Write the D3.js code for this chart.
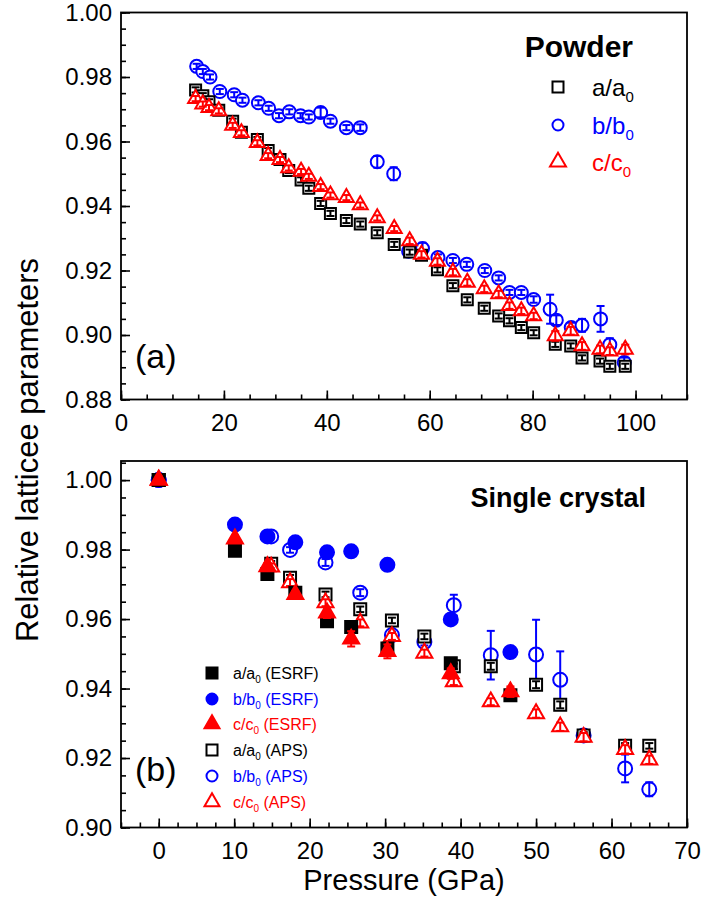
<!DOCTYPE html>
<html>
<head>
<meta charset="utf-8">
<script src="https://d3js.org/d3.v7.min.js"></script>
<style>
  body { margin: 0; background: #fff; }
  text { font-family: "Liberation Sans", Arial, sans-serif; }
</style>
</head>
<body>
<div id="chart"></div>
<script>
// ---- panel (a) Powder ----
var powderP = [14.5, 15.9, 17.1, 19.0, 21.7, 23.4, 26.5, 28.6, 30.9, 32.6, 35.0, 36.5, 38.8, 40.7, 43.8, 46.5,
  49.8, 53.1, 56.1, 58.4, 61.5, 64.5, 67.3, 70.6, 73.4, 75.5, 77.8, 80.2, 84.4, 87.4, 89.6, 93.1, 95.0, 98.0];
var powderA = [0.9760, 0.9742, 0.9723, 0.9697, 0.9663, 0.9629, 0.9606, 0.9572, 0.9544, 0.9510, 0.9481, 0.9455,
  0.9408, 0.9377, 0.9355, 0.9344, 0.9317, 0.9281, 0.9257, 0.9247, 0.9202, 0.9153, 0.9109, 0.9083, 0.9059,
  0.9044, 0.9023, 0.9007, 0.8971, 0.8966, 0.8929, 0.8919, 0.8903, 0.8903];
var powderC = [0.9733, 0.9716, 0.9705, 0.9695, 0.9650, 0.9627, 0.9596, 0.9556, 0.9544, 0.9518, 0.9507, 0.9492,
  0.9460, 0.9434, 0.9426, 0.9403, 0.9363, 0.9330, 0.9292, 0.9250, 0.9228, 0.9195, 0.9163, 0.9143, 0.9127,
  0.9091, 0.9075, 0.9059, 0.8997, 0.9013, 0.8966, 0.8955, 0.8950, 0.8955];
var powderErrA = [0.0008, 0.0008, 0.0008, 0.0008, 0.0008, 0.0008, 0.0008, 0.0008, 0.0008, 0.0008, 0.0008, 0.0008,
  0.0008, 0.0008, 0.0008, 0.0008, 0.0008, 0.0008, 0.0008, 0.0008, 0.0008, 0.0008, 0.0008, 0.0008, 0.0008,
  0.0008, 0.0008, 0.0008, 0.0008, 0.0008, 0.0008, 0.0008, 0.0008, 0.0008];
var powderErrC = [0.0008, 0.0008, 0.0008, 0.0008, 0.0008, 0.0008, 0.0008, 0.0008, 0.0008, 0.0008, 0.0008, 0.0008,
  0.0008, 0.0008, 0.0008, 0.0008, 0.0008, 0.0008, 0.0010, 0.0010, 0.0010, 0.0010, 0.0010, 0.0010, 0.0010,
  0.0010, 0.0010, 0.0010, 0.0015, 0.0012, 0.0012, 0.0012, 0.0012, 0.0015];

var powderPB = [14.7, 15.9, 17.3, 19.2, 22.0, 23.6, 26.7, 28.7, 30.7, 32.7, 34.9, 36.5, 38.8, 40.7, 43.8, 46.5,
  49.8, 53.0, 55.9, 58.6, 61.6, 64.5, 67.2, 70.7, 73.4, 75.5, 77.8, 80.2, 83.4, 84.6, 87.5, 89.6, 93.2, 95.0, 97.8];
var powderB = [0.9833, 0.9817, 0.9800, 0.9755, 0.9745, 0.9728, 0.9720, 0.9703, 0.9680, 0.9692, 0.9680, 0.9676,
  0.9690, 0.9663, 0.9643, 0.9643, 0.9537, 0.9500, 0.9260, 0.9268, 0.9240, 0.9231, 0.9219, 0.9200, 0.9177,
  0.9132, 0.9132, 0.9110, 0.9080, 0.9046, 0.9023, 0.9030, 0.9050, 0.8970, 0.8915];
var powderErrB = [0.0008, 0.0008, 0.0008, 0.0008, 0.0008, 0.0008, 0.0008, 0.0008, 0.0008, 0.0008, 0.0008, 0.0008,
  0.0015, 0.0008, 0.0008, 0.0010, 0.0018, 0.0020, 0.0015, 0.0018, 0.0010, 0.0008, 0.0008, 0.0008, 0.0008,
  0.0008, 0.0008, 0.0010, 0.0045, 0.0015, 0.0015, 0.0020, 0.0040, 0.0020, 0.0015];

// ---- panel (b) Single crystal ----
var esrfP = [0, 10.1, 14.4, 18.1, 22.3, 25.5, 30.3, 38.7, 46.6];
var esrfA = [1.000, 0.9797, 0.9730, 0.9676, 0.9594, 0.9577, 0.9515, 0.9473, 0.9381];
var esrfB = [1.000, 0.9872, 0.9838, 0.9821, 0.9792, 0.9795, 0.9756, 0.9599, 0.9505];
var esrfC = [1.000, 0.9831, 0.9751, 0.9671, 0.9618, 0.9543, 0.9507, 0.9443, 0.9391];
var esrfErrA = [0.0005, 0.0008, 0.0008, 0.0008, 0.0008, 0.0008, 0.0010, 0.0010, 0.0010];
var esrfErrB = [0.0005, 0.0005, 0.0005, 0.0005, 0.0005, 0.0005, 0.0005, 0.0005, 0.0005];
var esrfErrC = [0.0010, 0.0010, 0.0010, 0.0010, 0.0015, 0.0022, 0.0020, 0.0015, 0.0015];

var apsP = [0, 14.9, 17.4, 22.1, 26.7, 30.9, 35.2, 39.1, 44.0, 50.0, 53.2, 56.3, 61.8, 65.0];
var apsA = [1.000, 0.9759, 0.9719, 0.9671, 0.9628, 0.9596, 0.9550, 0.9464, 0.9464, 0.9411, 0.9353, 0.9265, 0.9235, 0.9235];
var apsB = [1.000, 0.9838, 0.9799, 0.9763, 0.9676, 0.9554, 0.9534, 0.9640, 0.9496, 0.9498, 0.9425, 0.9265, 0.9170, 0.9110];
var apsC = [1.000, 0.9750, 0.9705, 0.9647, 0.9589, 0.9550, 0.9502, 0.9420, 0.9362, 0.9328, 0.9290, 0.9260, 0.9225, 0.9195];
var apsErrA = [0.0005, 0.0008, 0.0008, 0.0008, 0.0008, 0.0008, 0.0008, 0.0008, 0.0010, 0.0010, 0.0010, 0.0010, 0.0008, 0.0008];
var apsErrB = [0.0005, 0.0005, 0.0008, 0.0010, 0.0010, 0.0010, 0.0010, 0.0030, 0.0070, 0.0100, 0.0082, 0.0015, 0.0040, 0.0020];
var apsErrC = [0.0008, 0.0010, 0.0010, 0.0010, 0.0010, 0.0010, 0.0010, 0.0010, 0.0010, 0.0012, 0.0012, 0.0012, 0.0012, 0.0012];

var W = 702, H = 899;
var left = 121, right = 687;
var BLUE = "#0000ff", RED = "#ff0000", BLACK = "#000000";

var svg = d3.select("#chart").append("svg")
  .attr("width", W).attr("height", H);

var xa = d3.scaleLinear().domain([0, 110]).range([left, right]);
var ya = d3.scaleLinear().domain([0.88, 1.00]).range([399.5, 12.5]);
var xb = d3.scaleLinear().domain([-5, 70]).range([left, right]);
var yb = d3.scaleLinear().domain([0.90, 1.0055]).range([827.5, 461]);

function shape(name) {
  if (name === "square") return d3.symbolSquare;
  if (name === "circle") return d3.symbolCircle;
  return d3.symbolTriangle;
}
function area(name, s) {
  if (name === "square") return s * s;
  if (name === "circle") return Math.PI * s * s / 4;
  return s * s * Math.sqrt(3) / 4;
}

// markers with small error bars
function drawSeries(xs, ys, px, vals, errs, kind, color, filled, s) {
  var pts = px.map(function(p, i) { return {p: p, v: vals[i], e: errs[i]}; });
  var g = svg.append("g");
  g.selectAll("path").data(pts).enter().append("path")
    .attr("transform", function(d) { return "translate(" + xs(d.p) + "," + ys(d.v) + ")"; })
    .attr("d", d3.symbol().type(shape(kind)).size(area(kind, s)))
    .attr("fill", filled ? color : "#fff")
    .attr("stroke", color)
    .attr("stroke-width", 2);
  var eb = g.selectAll("g.eb").data(pts).enter().append("g")
    .attr("stroke", color).attr("stroke-width", 2);
  eb.append("line")
    .attr("x1", function(d) { return xs(d.p); }).attr("x2", function(d) { return xs(d.p); })
    .attr("y1", function(d) { return ys(d.v - d.e); }).attr("y2", function(d) { return ys(d.v + d.e); });
  [-1, 1].forEach(function(sg) {
    eb.append("line")
      .attr("x1", function(d) { return xs(d.p) - 4; }).attr("x2", function(d) { return xs(d.p) + 4; })
      .attr("y1", function(d) { return ys(d.v + sg * d.e); }).attr("y2", function(d) { return ys(d.v + sg * d.e); });
  });
}

function drawAxes(xs, ys, xMajor, xMinor, yMajor, yMinor, yFmt) {
  var y0 = ys.range()[0], y1 = ys.range()[1];
  var g = svg.append("g");
  var ax = g.append("g").attr("transform", "translate(0," + y0 + ")");
  ax.append("g").call(d3.axisBottom(xs).tickValues(xMinor).tickSize(-5).tickFormat(""));
  ax.append("g").call(d3.axisBottom(xs).tickValues(xMajor).tickSize(-9).tickPadding(14).tickFormat(d3.format("d")));
  var ay = g.append("g").attr("transform", "translate(" + left + ",0)");
  ay.append("g").call(d3.axisLeft(ys).tickValues(yMinor).tickSize(-5).tickFormat(""));
  ay.append("g").call(d3.axisLeft(ys).tickValues(yMajor).tickSize(-9).tickPadding(9).tickFormat(yFmt));
  g.selectAll(".domain").remove();
  g.selectAll(".tick line").attr("stroke", "#000").attr("stroke-width", 1.6);
  g.selectAll(".tick text").attr("font-size", 24).attr("fill", "#000")
    .style("font-family", "'Liberation Sans', Arial, sans-serif");
  svg.append("rect")
    .attr("x", left).attr("y", y1)
    .attr("width", right - left).attr("height", y0 - y1)
    .attr("fill", "none").attr("stroke", "#000").attr("stroke-width", 1.8);
}

// ---- panel (a) ----
drawSeries(xa, ya, powderPB, powderB, powderErrB, "circle", BLUE, false, 13);
drawSeries(xa, ya, powderP, powderA, powderErrA, "square", BLACK, false, 11);
drawSeries(xa, ya, powderP, powderC, powderErrC, "triangle", RED, false, 15);
drawAxes(xa, ya, d3.range(0, 101, 20), d3.range(0, 111, 5),
  d3.range(0, 7).map(function(i) { return 0.88 + i * 0.02; }),
  d3.range(0, 25).map(function(i) { return 0.88 + i * 0.005; }),
  d3.format(".2f"));

// ---- panel (b) ----
drawSeries(xb, yb, apsP, apsB, apsErrB, "circle", BLUE, false, 14);
drawSeries(xb, yb, apsP, apsA, apsErrA, "square", BLACK, false, 12);
drawSeries(xb, yb, apsP, apsC, apsErrC, "triangle", RED, false, 16);
drawSeries(xb, yb, esrfP, esrfB, esrfErrB, "circle", BLUE, true, 14);
drawSeries(xb, yb, esrfP, esrfA, esrfErrA, "square", BLACK, true, 12);
drawSeries(xb, yb, esrfP, esrfC, esrfErrC, "triangle", RED, true, 16);
drawAxes(xb, yb, d3.range(0, 71, 10), d3.range(-5, 71, 2.5),
  d3.range(0, 6).map(function(i) { return 0.90 + i * 0.02; }),
  d3.range(0, 22).map(function(i) { return 0.90 + i * 0.005; }),
  d3.format(".2f"));

// ---- labels ----
function subLabel(x, y, base, tail, color, size, subSize, shift) {
  var t = svg.append("text").attr("x", x).attr("y", y)
    .attr("font-size", size).attr("fill", color);
  t.append("tspan").text(base);
  t.append("tspan").attr("font-size", subSize).attr("dy", shift).text("0");
  if (tail) t.append("tspan").attr("dy", -shift).text(tail);
}

svg.append("text").attr("x", 633).attr("y", 57)
  .attr("text-anchor", "end").attr("font-size", 30).attr("font-weight", "bold").text("Powder");

var legA = [
  {kind: "square", color: BLACK, base: "a/a", y: 87},
  {kind: "circle", color: BLUE, base: "b/b", y: 125},
  {kind: "triangle", color: RED, base: "c/c", y: 162}
];
legA.forEach(function(d) {
  svg.append("path")
    .attr("transform", "translate(558," + d.y + ")")
    .attr("d", d3.symbol().type(shape(d.kind)).size(area(d.kind, d.kind === "triangle" ? 16 : 11)))
    .attr("fill", "none").attr("stroke", d.color).attr("stroke-width", 2);
  subLabel(592, d.y + 9, d.base, null, d.color, 24, 15, 6);
});

svg.append("text").attr("x", 135).attr("y", 368).attr("font-size", 34).text("(a)");
svg.append("text").attr("x", 135).attr("y", 781).attr("font-size", 34).text("(b)");

svg.append("text").attr("x", 646).attr("y", 507)
  .attr("text-anchor", "end").attr("font-size", 27).attr("font-weight", "bold").text("Single crystal");

var legB = [
  {kind: "square", color: BLACK, filled: true, base: "a/a", tail: " (ESRF)"},
  {kind: "circle", color: BLUE, filled: true, base: "b/b", tail: " (ESRF)"},
  {kind: "triangle", color: RED, filled: true, base: "c/c", tail: " (ESRF)"},
  {kind: "square", color: BLACK, filled: false, base: "a/a", tail: " (APS)"},
  {kind: "circle", color: BLUE, filled: false, base: "b/b", tail: " (APS)"},
  {kind: "triangle", color: RED, filled: false, base: "c/c", tail: " (APS)"}
];
var legRows = [673, 699, 724, 750, 776, 802];
legB.forEach(function(d, i) {
  var y = legRows[i];
  svg.append("path")
    .attr("transform", "translate(212," + y + ")")
    .attr("d", d3.symbol().type(shape(d.kind)).size(area(d.kind, d.kind === "triangle" ? 15 : 11)))
    .attr("fill", d.filled ? d.color : "none").attr("stroke", d.color).attr("stroke-width", 2);
  subLabel(233, y + 6, d.base, d.tail, d.color, 16, 10, 4);
});

svg.append("text")
  .attr("transform", "translate(38,450) rotate(-90)")
  .attr("text-anchor", "middle").attr("font-size", 31)
  .text("Relative latticee parameters");

svg.append("text").attr("x", 404).attr("y", 890)
  .attr("text-anchor", "middle").attr("font-size", 29)
  .text("Pressure (GPa)");
</script>
</body>
</html>
